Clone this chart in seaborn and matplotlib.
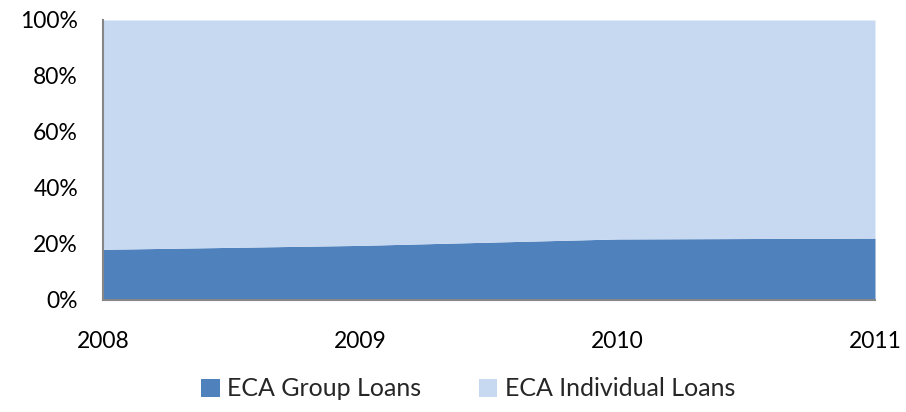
import matplotlib
matplotlib.use("Agg")
import matplotlib.pyplot as plt
import matplotlib.ticker as mticker
import seaborn as sns

years = [2008, 2009, 2010, 2011]
group_share = [18.1, 19.5, 21.8, 22.1]
individual_share = [100 - g for g in group_share]
series_names = ["ECA Group Loans", "ECA Individual Loans"]
colors = ["#4f81bd", "#c6d9f1"]

sns.set_style("white")
plt.rcParams["font.family"] = ["Lato", "DejaVu Sans"]

fig = plt.figure(figsize=(9.06, 4.12), dpi=100)
ax = fig.add_axes([103 / 906, 1 - 300 / 412, (875 - 103) / 906, 280 / 412])

ax.stackplot(years, group_share, individual_share, colors=colors,
             labels=series_names, linewidth=0)

ax.set_xlim(years[0], years[-1])
ax.set_ylim(0, 100)
ax.set_xticks(years)
ax.set_yticks(range(0, 101, 20))
ax.yaxis.set_major_formatter(mticker.FuncFormatter(lambda v, _: f"{v:.0f}%"))

for side in ["top", "right"]:
    ax.spines[side].set_visible(False)
for side in ["left", "bottom"]:
    ax.spines[side].set_color("#868686")
    ax.spines[side].set_linewidth(1.5)
ax.tick_params(axis="both", which="major", direction="out", length=5,
               width=1.5, color="#868686", labelsize=16.5, labelcolor="black")
ax.tick_params(axis="x", pad=17)
ax.tick_params(axis="y", pad=13)

ax.legend(loc="center", bbox_to_anchor=(468 / 906, 1 - 389 / 412),
          bbox_transform=fig.transFigure, ncol=2, frameon=False,
          fontsize=18, handlelength=0.75, handleheight=0.75,
          handletextpad=0.3, columnspacing=2.3)

fig.savefig("out.png", dpi=100)
